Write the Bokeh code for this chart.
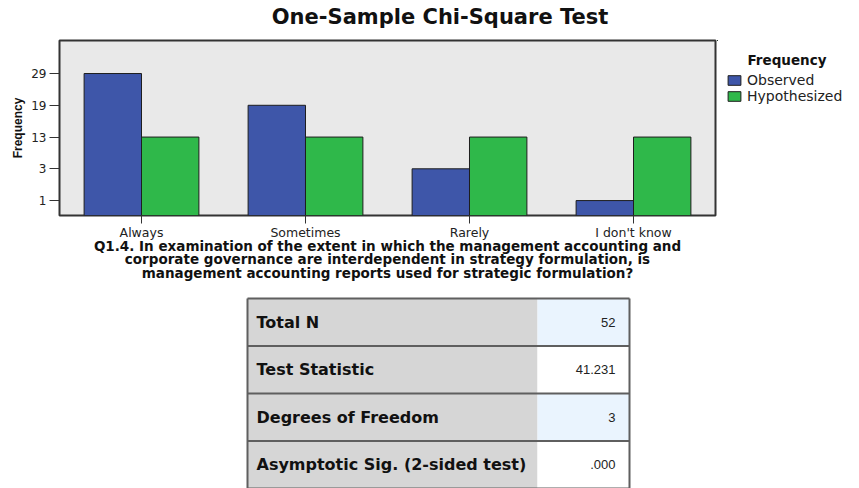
from bokeh.plotting import figure
from bokeh.models import FactorRange, Range1d, FixedTicker, Legend, LegendItem, ColumnDataSource
from bokeh.transform import dodge
from bokeh.layouts import column, row
from bokeh.embed import file_html
from bokeh.resources import INLINE
from bokeh.core.properties import value

# ---- data ----
categories = ["Always", "Sometimes", "Rarely", "I don't know"]
observed = [29, 19, 3, 1]
hypothesized = [13, 13, 13, 13]
y_tick_labels = [1, 3, 13, 19, 29]
series_names = ["Observed", "Hypothesized"]
legend_title = "Frequency"

table_labels = ["Total N", "Test Statistic", "Degrees of Freedom", "Asymptotic Sig. (2-sided test)"]
table_values = ["52", "41.231", "3", ".000"]

title_text = "One-Sample Chi-Square Test"
x_title = ("Q1.4. In examination of the extent in which the management accounting and\n"
           "corporate governance are interdependent in strategy formulation, is\n"
           "management accounting reports used for strategic formulation?")

BLUE = "#3e56a9"
GREEN = "#2fb84a"

# ordinal frequency axis (SPSS style): position = rank of value among tick labels
obs_pos = [y_tick_labels.index(v) for v in observed]
hyp_pos = [y_tick_labels.index(v) for v in hypothesized]

src = ColumnDataSource(dict(cat=categories, obs=obs_pos, hyp=hyp_pos,
                            obs_v=observed, hyp_v=hypothesized))

BL, BB = 59, 75
TTL_H = 30                 # title strip height
CW, CH = 717, 260          # chart figure size
LW = 142                   # legend panel width
FT = 10                    # chart top border -> frame top at page y 40
FRAME_TOP = TTL_H + FT
FRAME_BOT = TTL_H + CH - BB

# ---- title strip ----
tt = figure(width=CW, height=TTL_H, x_range=Range1d(BL, CW - 2), y_range=Range1d(TTL_H, 0),
            output_backend="svg", toolbar_location=None,
            min_border_left=BL, min_border_right=2, min_border_top=0, min_border_bottom=0)
tt.axis.visible = False
tt.grid.visible = False
tt.outline_line_color = None
tt.background_fill_color = "white"
tt.border_fill_color = "white"
tt.text(x=[439.5], y=[16], text=[title_text], text_font=value("DejaVu Sans"),
        text_font_style="bold", text_font_size="21px", text_align="center",
        text_baseline="middle", text_color="#111111")

# ---- chart ----
p = figure(width=CW, height=CH, x_range=FactorRange(factors=categories),
           y_range=Range1d(-0.47, 5.04), output_backend="svg", toolbar_location=None,
           min_border_left=BL, min_border_right=2, min_border_top=FT, min_border_bottom=BB)
p.background_fill_color = "#e9e9e9"
p.border_fill_color = "white"
p.outline_line_color = "#333333"
p.outline_line_width = 2
p.xgrid.visible = False
p.ygrid.visible = False

base = p.y_range.start
r_obs = p.vbar(x=dodge("cat", -0.175, range=p.x_range), top="obs", bottom=base, width=0.35,
               source=src, fill_color=BLUE, line_color="#1e1e1e", line_width=1)
r_hyp = p.vbar(x=dodge("cat", 0.175, range=p.x_range), top="hyp", bottom=base, width=0.35,
               source=src, fill_color=GREEN, line_color="#1e1e1e", line_width=1)

# y axis
ya = p.yaxis[0]
ya.ticker = FixedTicker(ticks=list(range(len(y_tick_labels))))
ya.major_label_overrides = {i: str(v) for i, v in enumerate(y_tick_labels)}
ya.axis_line_color = None
ya.major_tick_out = 10
ya.major_tick_in = 0
ya.minor_tick_out = 0
ya.minor_tick_in = 0
ya.major_tick_line_color = "#333333"
ya.major_label_standoff = 3
ya.major_label_text_font = "DejaVu Sans"
ya.major_label_text_font_size = "12px"
ya.major_label_text_color = "#222222"
ya.axis_label = "Frequency"
ya.axis_label_text_font = "Liberation Sans"
ya.axis_label_text_font_style = "bold"
ya.axis_label_text_font_size = "12px"
ya.axis_label_text_color = "#111111"
ya.axis_label_standoff = 3

# x axis
xa = p.xaxis[0]
xa.axis_line_color = None
xa.major_tick_out = 8
xa.major_tick_in = 0
xa.major_tick_line_color = "#333333"
xa.major_label_standoff = 1
xa.major_label_text_font = "DejaVu Sans"
xa.major_label_text_font_size = "12.5px"
xa.major_label_text_color = "#222222"
xa.axis_label = x_title
xa.axis_label_text_font = "DejaVu Sans"
xa.axis_label_text_font_style = "bold"
xa.axis_label_text_font_size = "13.5px"
xa.axis_label_text_line_height = 0.86
xa.axis_label_text_color = "#111111"
xa.axis_label_standoff = -5

# ---- legend panel (separate figure to the right of the chart) ----
lg = figure(width=LW, height=CH, x_range=Range1d(CW, CW + LW), y_range=Range1d(FRAME_BOT, FRAME_TOP),
            output_backend="svg", toolbar_location=None,
            min_border_left=0, min_border_right=0, min_border_top=FT, min_border_bottom=BB)
lg.axis.visible = False
lg.grid.visible = False
lg.outline_line_color = None
lg.background_fill_color = "white"
lg.border_fill_color = "white"
# legend key renderers: same data, far outside this panel's visible range
k_obs = lg.vbar(x="obs", top="obs", bottom=0, width=0.35, source=src,
                fill_color=BLUE, line_color="#1e1e1e", line_width=1)
k_hyp = lg.vbar(x="hyp", top="hyp", bottom=0, width=0.35, source=src,
                fill_color=GREEN, line_color="#1e1e1e", line_width=1)
legend = Legend(items=[LegendItem(label=series_names[0], renderers=[k_obs]),
                       LegendItem(label=series_names[1], renderers=[k_hyp])],
                location=(9, 111), orientation="vertical",
                glyph_width=16, glyph_height=12, label_height=16, spacing=0,
                padding=0, margin=0, label_standoff=5,
                label_text_font="DejaVu Sans", label_text_font_size="14px",
                label_text_color="#222222",
                background_fill_alpha=0, border_line_color=None)
lg.add_layout(legend, "center")
lg.text(x=[CW + 30], y=[FRAME_TOP + 19], text=[legend_title], text_font=value("DejaVu Sans"),
        text_font_style="bold", text_font_size="13.5px", text_baseline="middle",
        text_color="#111111")

# ---- table (x in page pixels) ----
TH = 198
t = figure(width=CW, height=TH, x_range=Range1d(BL, CW - 2), y_range=Range1d(TH, 0),
           output_backend="svg", toolbar_location=None,
           min_border_left=BL, min_border_right=2, min_border_top=0, min_border_bottom=0)
t.axis.visible = False
t.grid.visible = False
t.outline_line_color = None
t.background_fill_color = "white"
t.border_fill_color = "white"

T_LEFT, T_SPLIT, T_RIGHT, T_TOP, ROW_H = 247, 537, 629, 8, 47.5
n = len(table_labels)
tops = [T_TOP + i * ROW_H for i in range(n)]
bots = [tp + ROW_H for tp in tops]
mids = [tp + ROW_H / 2 for tp in tops]
val_colors = ["#eaf4fe" if i % 2 == 0 else "#ffffff" for i in range(n)]

t.quad(left=T_LEFT, right=T_SPLIT, top=tops, bottom=bots, fill_color="#d6d6d6", line_color=None)
t.quad(left=T_SPLIT, right=T_RIGHT, top=tops, bottom=bots, fill_color=val_colors, line_color=None)
lines_y = tops + [bots[-1]]
t.segment(x0=T_LEFT, x1=T_RIGHT, y0=lines_y, y1=lines_y, line_color="#5f5f5f", line_width=2)
t.segment(x0=[T_LEFT, T_RIGHT], x1=[T_LEFT, T_RIGHT], y0=T_TOP, y1=bots[-1],
          line_color="#5f5f5f", line_width=2)
t.text(x=T_LEFT + 9, y=mids, text=table_labels, text_font=value("DejaVu Sans"),
       text_font_style="bold", text_font_size="16px", text_baseline="middle",
       text_color="#111111")
t.text(x=T_RIGHT - 14, y=mids, text=table_values, text_font=value("Liberation Sans"),
       text_font_size="13px", text_baseline="middle", text_align="right",
       text_color="#222222")

layout = column(tt, row(p, lg, spacing=0), t, spacing=0)
open("out.html", "w").write(file_html(layout, INLINE))
